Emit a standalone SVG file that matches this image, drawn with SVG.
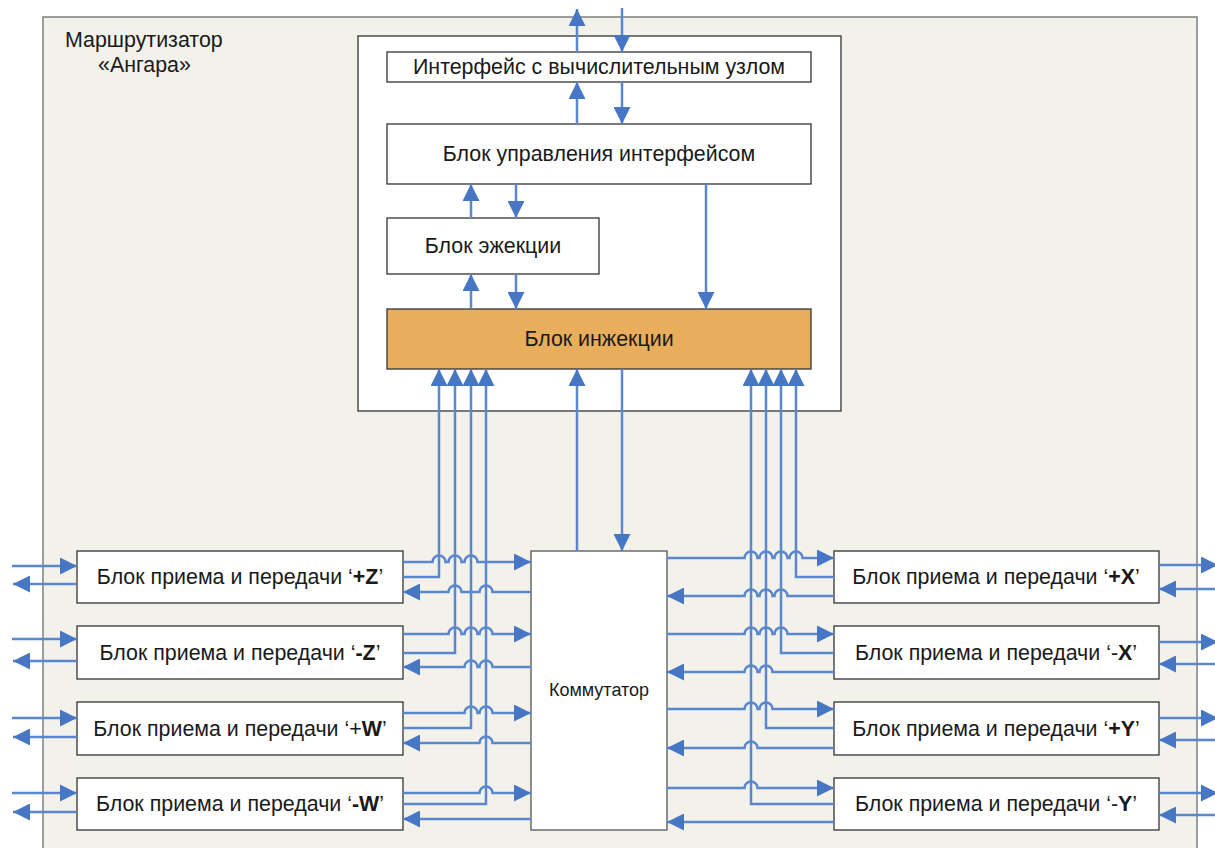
<svg xmlns="http://www.w3.org/2000/svg" width="1215" height="848" viewBox="0 0 1215 848">
<style>
.frame{fill:#f2f2eb;stroke:#808080;stroke-width:1.5}
.box{fill:#ffffff;stroke:#333333;stroke-width:1.3}
.inj{fill:#e9ae5b;stroke:#333333;stroke-width:1.3}
.t{font-family:"Liberation Sans",Arial,sans-serif;font-size:21.4px;fill:#1a1a1a;text-anchor:middle}
.w{fill:none;stroke:#5a87cd;stroke-width:2.5}
.e{marker-end:url(#ah)}
.s{marker-start:url(#ah)}
</style>
<defs>
<marker id="ah" markerUnits="userSpaceOnUse" markerWidth="17" markerHeight="17" refX="17" refY="8.5" orient="auto-start-reverse" viewBox="0 0 17 17"><path d="M0,0 L17,8.5 L0,17 z" fill="#4777c4"/></marker>
</defs>
<g id="router">
<rect class="frame" x="43" y="17" width="1154" height="850"/>
<text class="t" style="text-anchor:start" x="65" y="47">Маршрутизатор</text>
<text class="t" style="text-anchor:start" x="98" y="72">«Ангара»</text>
</g>
<g id="node-core"><rect class="box" x="358" y="36" width="483" height="375"/></g>
<g id="node-interface"><rect class="box" x="387" y="52" width="424" height="30"/><text class="t" x="599" y="74">Интерфейс с вычислительным узлом</text></g>
<g id="node-control"><rect class="box" x="387" y="124" width="424" height="60"/><text class="t" x="599" y="161">Блок управления интерфейсом</text></g>
<g id="node-ejection"><rect class="box" x="387" y="218" width="212" height="56"/><text class="t" x="493" y="253">Блок эжекции</text></g>
<g id="node-injection"><rect class="inj" x="387" y="309" width="424" height="60"/><text class="t" x="599" y="346">Блок инжекции</text></g>
<g id="node-switch"><rect class="box" x="531" y="551" width="136" height="279" style="stroke:#555"/><text class="t" style="font-size:18px" x="599" y="696">Коммутатор</text></g>
<g id="node-pz"><rect class="box" x="77" y="551" width="326" height="52"/><text class="t" x="240" y="584">Блок приема и передачи ‘<tspan font-weight="bold">+Z</tspan>’</text></g>
<g id="node-mz"><rect class="box" x="77" y="626" width="326" height="53"/><text class="t" x="240" y="660">Блок приема и передачи ‘<tspan font-weight="bold">-Z</tspan>’</text></g>
<g id="node-pw"><rect class="box" x="77" y="702" width="326" height="53"/><text class="t" x="240" y="736">Блок приема и передачи ‘+<tspan font-weight="bold">W</tspan>’</text></g>
<g id="node-mw"><rect class="box" x="77" y="778" width="326" height="52"/><text class="t" x="240" y="811">Блок приема и передачи ‘<tspan font-weight="bold">-W</tspan>’</text></g>
<g id="node-px"><rect class="box" x="834" y="551" width="325" height="52"/><text class="t" x="996" y="584">Блок приема и передачи ‘<tspan font-weight="bold">+X</tspan>’</text></g>
<g id="node-mx"><rect class="box" x="834" y="626" width="325" height="53"/><text class="t" x="996" y="660">Блок приема и передачи ‘-<tspan font-weight="bold">X</tspan>’</text></g>
<g id="node-py"><rect class="box" x="834" y="702" width="325" height="53"/><text class="t" x="996" y="736">Блок приема и передачи ‘<tspan font-weight="bold">+Y</tspan>’</text></g>
<g id="node-my"><rect class="box" x="834" y="778" width="325" height="52"/><text class="t" x="996" y="811">Блок приема и передачи ‘-<tspan font-weight="bold">Y</tspan>’</text></g>
<g id="connectors">
<path class="w e" d="M577,52 V9"/>
<path class="w e" d="M622,8 V52"/>
<path class="w e" d="M577,124 V82"/>
<path class="w e" d="M622,82 V124"/>
<path class="w e" d="M471,218 V184"/>
<path class="w e" d="M516,184 V218"/>
<path class="w e" d="M471,309 V274"/>
<path class="w e" d="M516,274 V309"/>
<path class="w e" d="M706,184 V309"/>
<path class="w e" d="M577,551 V369"/>
<path class="w e" d="M622,369 V551"/>
<path class="w e" d="M403,577 H439 V369"/>
<path class="w e" d="M403,653 H455 V369"/>
<path class="w e" d="M403,728 H471 V369"/>
<path class="w e" d="M403,804 H486 V369"/>
<path class="w e" d="M403,562 H432.5 A6.5,6.5 0 0 1 445.5,562 H448.5 A6.5,6.5 0 0 1 461.5,562 H464.5 A6.5,6.5 0 0 1 477.5,562 H531"/>
<path class="w s" d="M403,592 H448.5 A6.5,6.5 0 0 1 461.5,592 H479.5 A6.5,6.5 0 0 1 492.5,592 H531"/>
<path class="w e" d="M403,634 H448.5 A6.5,6.5 0 0 1 461.5,634 H464.5 A6.5,6.5 0 0 1 477.5,634 H479.5 A6.5,6.5 0 0 1 492.5,634 H531"/>
<path class="w s" d="M403,667 H464.5 A6.5,6.5 0 0 1 477.5,667 H479.5 A6.5,6.5 0 0 1 492.5,667 H531"/>
<path class="w e" d="M403,713 H464.5 A6.5,6.5 0 0 1 477.5,713 H479.5 A6.5,6.5 0 0 1 492.5,713 H531"/>
<path class="w s" d="M403,743 H479.5 A6.5,6.5 0 0 1 492.5,743 H531"/>
<path class="w e" d="M403,793 H479.5 A6.5,6.5 0 0 1 492.5,793 H531"/>
<path class="w s" d="M403,819 H531"/>
<path class="w e" d="M834,577 H796 V369"/>
<path class="w e" d="M834,653 H781 V369"/>
<path class="w e" d="M834,728 H766 V369"/>
<path class="w e" d="M834,804 H751 V369"/>
<path class="w e" d="M667,558 H744.5 A6.5,6.5 0 0 1 757.5,558 H759.5 A6.5,6.5 0 0 1 772.5,558 H774.5 A6.5,6.5 0 0 1 787.5,558 H789.5 A6.5,6.5 0 0 1 802.5,558 H834"/>
<path class="w s" d="M667,596 H744.5 A6.5,6.5 0 0 1 757.5,596 H759.5 A6.5,6.5 0 0 1 772.5,596 H774.5 A6.5,6.5 0 0 1 787.5,596 H834"/>
<path class="w e" d="M667,634 H744.5 A6.5,6.5 0 0 1 757.5,634 H759.5 A6.5,6.5 0 0 1 772.5,634 H774.5 A6.5,6.5 0 0 1 787.5,634 H834"/>
<path class="w s" d="M667,672 H744.5 A6.5,6.5 0 0 1 757.5,672 H759.5 A6.5,6.5 0 0 1 772.5,672 H834"/>
<path class="w e" d="M667,709 H744.5 A6.5,6.5 0 0 1 757.5,709 H759.5 A6.5,6.5 0 0 1 772.5,709 H834"/>
<path class="w s" d="M667,748 H744.5 A6.5,6.5 0 0 1 757.5,748 H834"/>
<path class="w e" d="M667,788 H744.5 A6.5,6.5 0 0 1 757.5,788 H834"/>
<path class="w s" d="M667,822 H834"/>
<path class="w e" d="M12,566 H77"/>
<path class="w s" d="M13,584 H77"/>
<path class="w e" d="M12,639 H77"/>
<path class="w s" d="M13,661 H77"/>
<path class="w e" d="M12,718 H77"/>
<path class="w s" d="M13,737 H77"/>
<path class="w e" d="M12,793 H77"/>
<path class="w s" d="M13,812 H77"/>
<path class="w e" d="M1159,565 H1218"/>
<path class="w s" d="M1159,589 H1218"/>
<path class="w e" d="M1159,642 H1218"/>
<path class="w s" d="M1159,664 H1218"/>
<path class="w e" d="M1159,718 H1218"/>
<path class="w s" d="M1159,740 H1218"/>
<path class="w e" d="M1159,793 H1218"/>
<path class="w s" d="M1159,815 H1218"/>
</g>
</svg>
